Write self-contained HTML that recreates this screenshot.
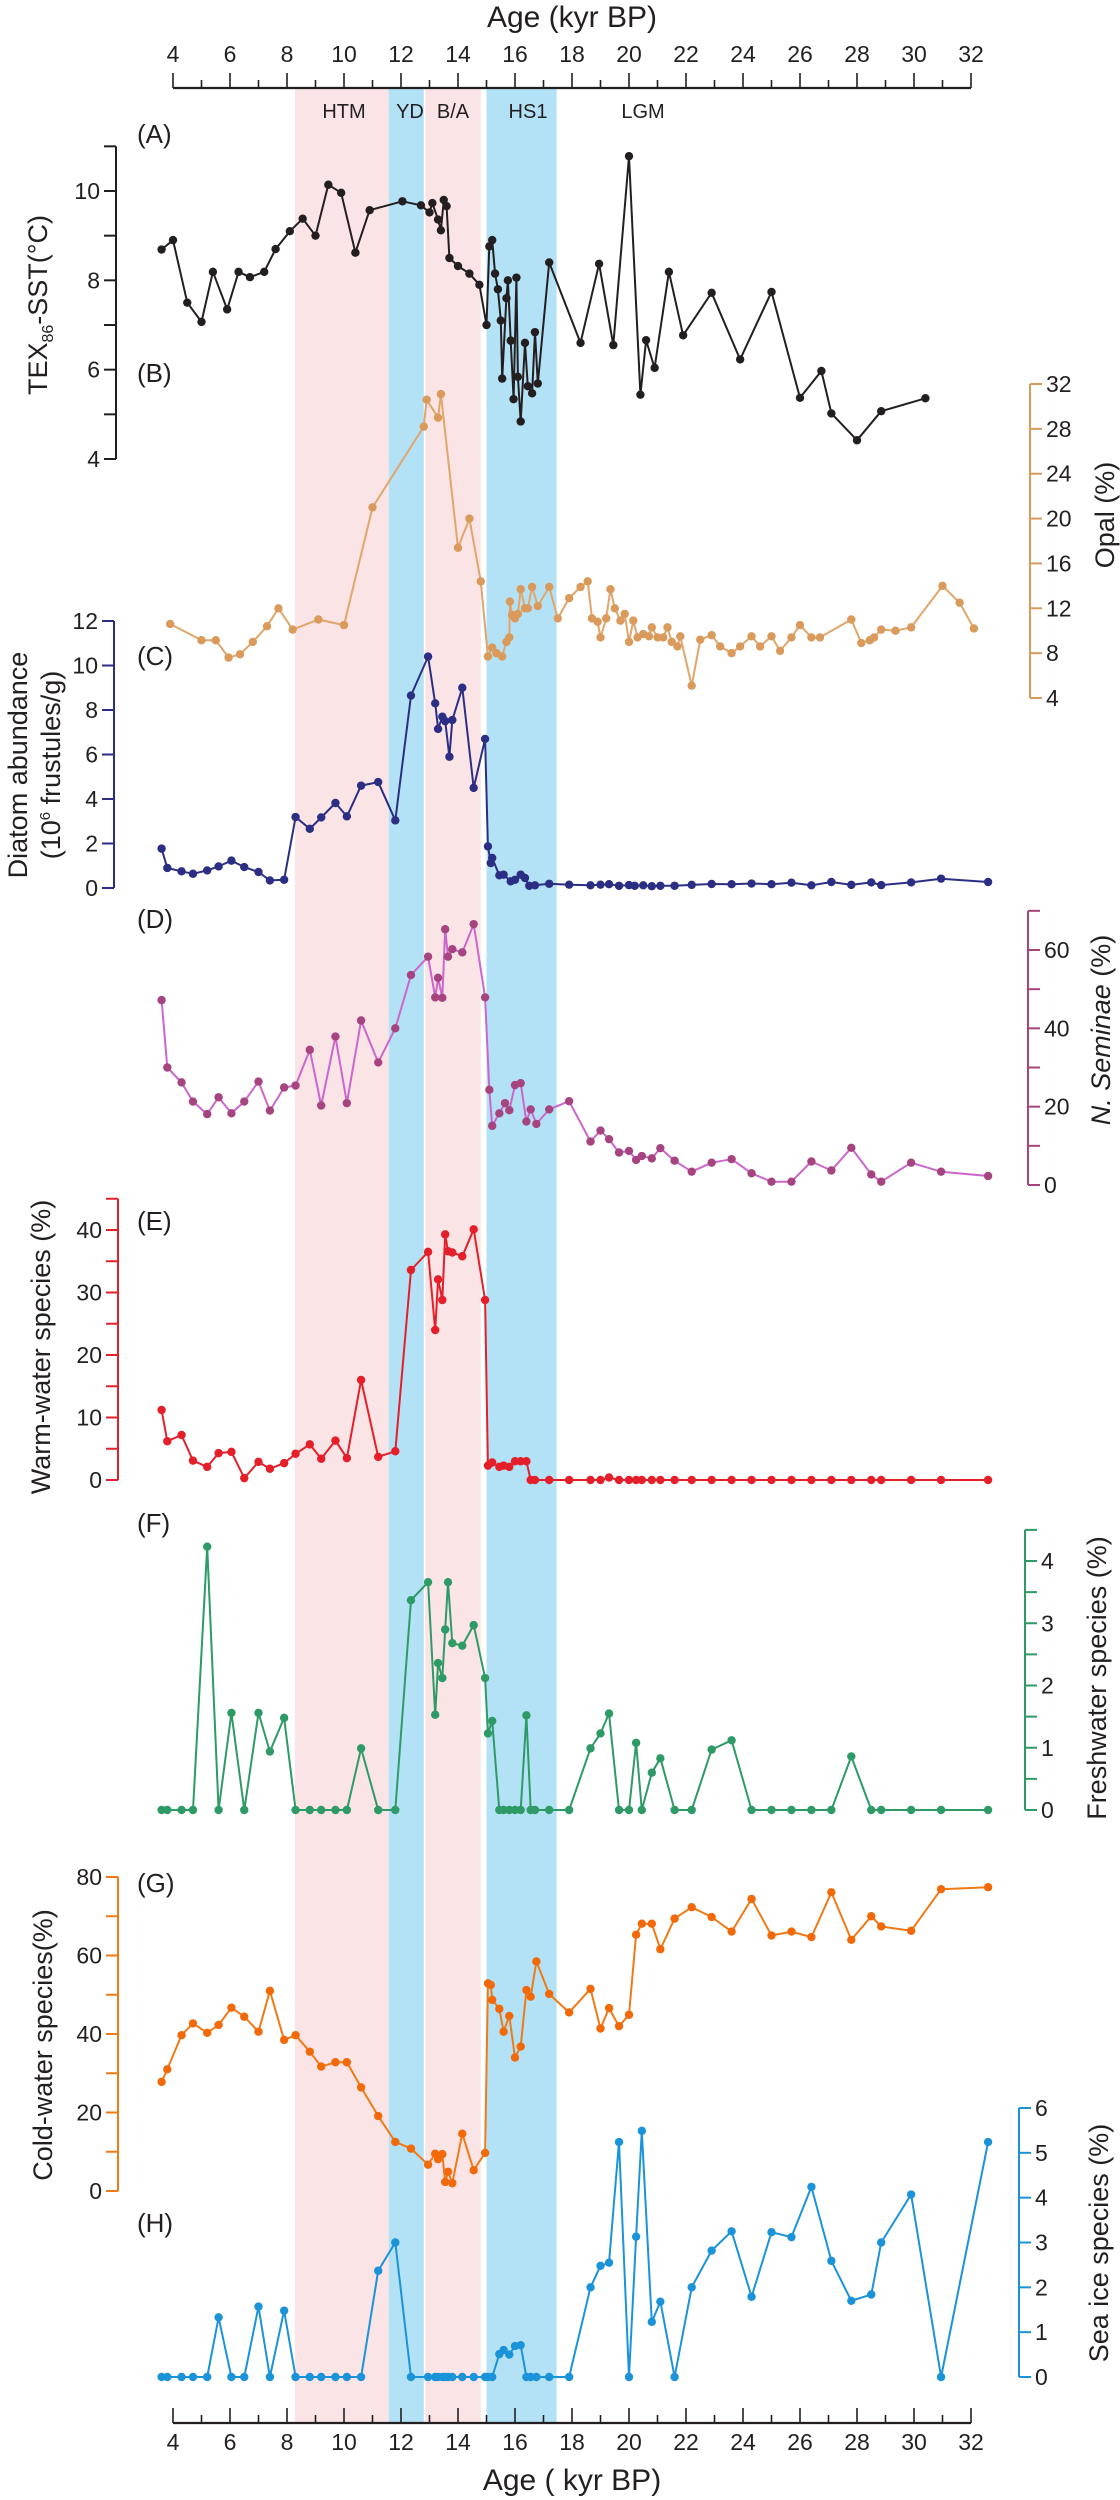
<!DOCTYPE html>
<html><head><meta charset="utf-8"><title>Paleo records</title>
<style>
html,body{margin:0;padding:0;background:#fff;}
svg{display:block;font-family:"Liberation Sans",Arial,sans-serif;}
</style></head>
<body>
<svg id="chart" width="1120" height="2500" viewBox="0 0 1120 2500" xmlns="http://www.w3.org/2000/svg"></svg>
<script>
// ---- Data ----
const ageTicks = [4,6,8,10,12,14,16,18,20,22,24,26,28,30,32];
const bandStarts = [8.28, 11.57, 12.85, 15.0];
const bandEnds = [11.57, 12.8, 14.8, 17.46];
const bandLabels = ["HTM","YD","B/A","HS1"];

const ageA = [3.6,4.0,4.5,5.0,5.4,5.9,6.3,6.7,7.2,7.6,8.1,8.55,9.0,9.45,9.9,10.4,10.9,12.05,12.7,13.0,13.1,13.3,13.4,13.5,13.6,13.7,14.0,14.4,14.75,15.0,15.1,15.2,15.3,15.4,15.5,15.55,15.7,15.75,15.85,15.95,16.05,16.1,16.2,16.35,16.45,16.6,16.7,16.8,17.2,18.3,18.95,19.45,20.0,20.4,20.6,20.9,21.4,21.9,22.9,23.9,25.0,26.0,26.75,27.1,28.0,28.85,30.4];
const sstA = [8.69,8.9,7.5,7.07,8.19,7.35,8.19,8.07,8.19,8.7,9.1,9.38,9.0,10.14,9.96,8.62,9.57,9.77,9.68,9.52,9.73,9.36,9.12,9.8,9.66,8.5,8.32,8.15,7.9,7.0,8.76,8.9,8.15,7.8,7.1,5.8,7.6,8.0,6.65,5.34,8.06,5.84,4.84,6.6,5.63,5.47,6.84,5.69,8.4,6.6,8.37,6.55,10.78,5.44,6.66,6.04,8.19,6.77,7.72,6.23,7.74,5.37,5.97,5.02,4.42,5.07,5.36];

const ageB = [3.9,5.0,5.5,5.95,6.35,6.8,7.3,7.7,8.2,9.1,10.0,11.0,12.8,12.9,13.3,13.4,14.0,14.4,14.8,15.05,15.2,15.35,15.55,15.7,15.8,15.82,15.9,16.0,16.1,16.2,16.35,16.45,16.6,16.8,17.2,17.5,17.9,18.3,18.55,18.7,18.9,19.0,19.2,19.35,19.5,19.7,19.85,20.0,20.15,20.3,20.5,20.7,20.8,21.0,21.2,21.35,21.5,21.7,21.8,22.2,22.5,22.9,23.2,23.6,23.9,24.3,24.6,25.0,25.3,25.7,26.0,26.4,26.7,27.8,28.15,28.45,28.6,28.85,29.35,29.9,31.0,31.6,32.1];
const opalB = [10.6,9.15,9.15,7.6,7.9,9.0,10.4,12.0,10.1,11.0,10.5,21.0,28.2,30.6,29.0,31.1,17.4,20.0,14.4,7.7,8.5,8.0,7.7,9.0,9.4,12.6,11.4,11.1,11.5,13.7,12.0,12.0,13.9,12.2,13.9,11.1,12.9,13.9,14.4,11.1,10.8,9.4,11.1,13.7,12.0,10.9,11.5,9.0,10.9,9.4,9.7,9.5,10.3,9.4,9.4,10.3,9.0,8.6,9.5,5.1,9.2,9.6,8.6,8.0,8.6,9.5,8.6,9.5,8.2,9.4,10.5,9.4,9.4,11.0,8.9,9.15,9.4,10.1,10.0,10.3,14.0,12.5,10.2];

const ageC = [3.6,3.8,4.3,4.7,5.2,5.6,6.05,6.5,7.0,7.4,7.9,8.3,8.8,9.2,9.7,10.1,10.6,11.2,11.8,12.35,12.95,13.2,13.3,13.45,13.55,13.7,13.8,14.15,14.55,14.95,15.05,15.15,15.2,15.45,15.6,15.85,16.0,16.2,16.35,16.5,16.7,17.2,17.9,18.65,19.0,19.3,19.65,20.0,20.2,20.5,20.8,21.1,21.6,22.2,22.9,23.6,24.3,25.0,25.7,26.4,27.1,27.8,28.5,28.85,29.9,30.95,32.6];
const diatomC = [1.77,0.9,0.75,0.64,0.79,0.97,1.23,0.94,0.72,0.34,0.37,3.19,2.66,3.17,3.82,3.22,4.6,4.76,3.04,8.65,10.4,8.3,7.15,7.7,7.5,5.9,7.55,9.0,4.5,6.7,1.87,1.12,1.35,0.57,0.6,0.3,0.37,0.6,0.45,0.1,0.12,0.19,0.15,0.12,0.15,0.17,0.1,0.13,0.1,0.12,0.08,0.1,0.1,0.14,0.18,0.17,0.2,0.17,0.24,0.12,0.27,0.14,0.25,0.13,0.25,0.42,0.27];

const ageD = [3.6,3.8,4.3,4.7,5.2,5.6,6.05,6.5,7.0,7.4,7.9,8.3,8.8,9.2,9.7,10.1,10.6,11.2,11.8,12.35,12.95,13.2,13.3,13.45,13.55,13.65,13.8,14.15,14.55,14.95,15.1,15.2,15.45,15.65,15.8,16.0,16.2,16.4,16.55,16.75,17.2,17.9,18.65,19.0,19.3,19.65,20.0,20.25,20.45,20.8,21.1,21.6,22.2,22.9,23.6,24.3,25.0,25.7,26.4,27.1,27.8,28.5,28.85,29.9,30.95,32.6];
const seminaeD = [47.2,30.0,26.2,21.3,18.1,22.4,18.3,21.3,26.4,19.0,24.9,25.4,34.5,20.3,37.9,20.9,42.0,31.3,40.0,53.6,58.3,47.9,52.9,47.8,65.3,58.3,60.2,59.4,66.6,47.9,24.3,15.1,18.3,20.9,19.1,25.5,26.0,16.2,19.3,15.6,19.3,21.4,11.1,13.9,11.7,8.3,8.7,6.4,7.4,6.8,9.4,6.2,3.4,5.7,6.6,3.0,0.85,0.85,6.0,3.7,9.5,2.7,0.85,5.7,3.4,2.3];

const ageE = [3.6,3.8,4.3,4.7,5.2,5.6,6.05,6.5,7.0,7.4,7.9,8.3,8.8,9.2,9.7,10.1,10.6,11.2,11.8,12.35,12.95,13.2,13.3,13.45,13.55,13.65,13.8,14.15,14.55,14.95,15.05,15.2,15.45,15.6,15.8,16.0,16.2,16.4,16.55,16.7,17.2,17.9,18.65,19.0,19.3,19.65,20.0,20.25,20.45,20.8,21.1,21.6,22.2,22.9,23.6,24.3,25.0,25.7,26.4,27.1,27.8,28.5,28.85,29.9,30.95,32.6];
const warmE = [11.2,6.2,7.2,3.1,2.1,4.3,4.5,0.3,2.9,1.8,2.7,4.2,5.7,3.4,6.3,3.5,16.0,3.7,4.6,33.6,36.5,24.0,32.1,28.8,39.3,36.6,36.4,35.8,40.1,28.8,2.3,2.8,2.1,2.3,2.1,3.0,3.0,3.0,0,0,0,0,0,0,0.4,0,0,0,0,0,0,0,0,0,0,0,0,0,0,0,0,0,0,0,0,0];

const ageF = ageE.slice();
const freshF = [0,0,0,0,4.23,0,1.56,0,1.56,0.94,1.48,0,0,0,0,0,0.99,0,0,3.37,3.66,1.53,2.36,2.12,2.9,3.66,2.68,2.64,2.97,2.12,1.23,1.43,0,0,0,0,0,1.52,0,0,0,0,0.99,1.23,1.55,0,0,1.08,0,0.6,0.83,0,0,0.97,1.12,0,0,0,0,0,0.86,0,0,0,0,0];

const ageG = [3.6,3.8,4.3,4.7,5.2,5.6,6.05,6.5,7.0,7.4,7.9,8.3,8.8,9.2,9.7,10.1,10.6,11.2,11.8,12.35,12.95,13.2,13.3,13.45,13.55,13.65,13.8,14.15,14.55,14.95,15.05,15.15,15.2,15.45,15.6,15.8,16.0,16.2,16.4,16.55,16.75,17.2,17.9,18.65,19.0,19.3,19.65,20.0,20.25,20.45,20.8,21.1,21.6,22.2,22.9,23.6,24.3,25.0,25.7,26.4,27.1,27.8,28.5,28.85,29.9,30.95,32.6];
const coldG = [27.8,31.0,39.7,42.7,40.3,42.3,46.7,44.4,40.6,51.0,38.5,39.7,35.5,31.7,32.8,32.8,26.4,19.1,12.5,10.8,6.7,9.5,8.1,9.4,2.3,4.9,2.0,14.6,5.3,9.7,52.9,52.5,48.7,46.4,40.6,44.6,34.0,36.8,51.2,49.5,58.5,50.2,45.5,51.5,41.4,46.6,42.0,44.9,65.3,68.1,68.1,61.6,69.4,72.3,69.8,66.1,74.4,65.1,66.1,64.7,76.1,64.0,70.0,67.4,66.3,76.9,77.4];

const ageH = [3.6,3.8,4.3,4.7,5.2,5.6,6.05,6.5,7.0,7.4,7.9,8.3,8.8,9.2,9.7,10.1,10.6,11.2,11.8,12.35,12.95,13.2,13.3,13.45,13.55,13.65,13.8,14.15,14.55,14.95,15.05,15.2,15.45,15.6,15.8,16.0,16.2,16.4,16.55,16.75,17.2,17.9,18.65,19.0,19.3,19.65,20.0,20.25,20.45,20.8,21.1,21.6,22.2,22.9,23.6,24.3,25.0,25.7,26.4,27.1,27.8,28.5,28.85,29.9,30.95,32.6];
const iceH = [0,0,0,0,0,1.33,0,0,1.57,0,1.48,0,0,0,0,0,0,2.37,3.0,0,0,0,0,0,0,0,0,0,0,0,0,0,0.51,0.6,0.5,0.69,0.71,0,0,0,0,0,2.0,2.48,2.55,5.24,0,3.13,5.49,1.23,1.68,0,2.0,2.82,3.25,1.79,3.23,3.12,4.24,2.59,1.7,1.84,3.0,4.07,0,5.24];

// ---- Drawing ----
const NS = "http://www.w3.org/2000/svg";
const svg = document.getElementById("chart");
function el(tag, attrs, parent) {
  const e = document.createElementNS(NS, tag);
  for (const k in attrs) e.setAttribute(k, attrs[k]);
  (parent || svg).appendChild(e);
  return e;
}
const X = k => 173 + (k - 4) * 28.5;
function lin(v0, p0, v1, p1) { return v => p0 + (v - v0) * (p1 - p0) / (v1 - v0); }

// bands
const bandColors = ["#fbe4e6", "#b3e2f6", "#fbe4e6", "#b3e2f6"];
for (let i = 0; i < bandStarts.length; i++) {
  const r = el("rect", {x: X(bandStarts[i]), y: 88, width: X(bandEnds[i]) - X(bandStarts[i]), height: 2335, fill: bandColors[i]});
  
  
}
const bandTextX = [344, 410, 453, 528, 643];
const bandTexts = ["HTM", "YD", "B/A", "HS1", "LGM"];
for (let i = 0; i < bandTexts.length; i++) {
  const t = el("text", {x: bandTextX[i], y: 118, "font-size": 20, fill: "#231f20", "text-anchor": "middle"});
  t.textContent = bandTexts[i];
  
  
}

// age axes
function ageAxis(y, top) {
  const g = el("g", {});
  
  
  el("line", {x1: X(4), x2: X(32), y1: y, y2: y, stroke: "#231f20", "stroke-width": 2.2}, g);
  for (let k = 4; k <= 32; k++) {
    const major = k % 2 === 0;
    el("line", {x1: X(k), x2: X(k), y1: y, y2: y - (major ? 15 : 8), stroke: "#231f20", "stroke-width": 1.6}, g);
  }
  ageTicks.forEach(k => {
    const t = el("text", {x: X(k), y: top ? 62 : 2450, "font-size": 23, "text-anchor": "middle", fill: "#231f20"}, g);
    t.textContent = k;
  });
  const tt = el("text", {x: X(18), y: top ? 27 : 2490, "font-size": 30, "text-anchor": "middle", fill: "#231f20"}, g);
  tt.textContent = top ? "Age (kyr BP)" : "Age ( kyr BP)";
  
  
}
ageAxis(88, true);
ageAxis(2423, false);

// y axis
function yAxis(name, side, x, sc, vmin, vmax, step, labelStep, color) {
  const g = el("g", {});
  
  
  el("line", {x1: x, x2: x, y1: sc(vmin), y2: sc(vmax), stroke: color, "stroke-width": 2}, g);
  const dir = side === "left" ? -1 : 1;
  for (let v = vmin; v <= vmax + 1e-9; v += step) {
    const vv = Math.round(v * 100) / 100;
    el("line", {x1: x, x2: x + dir * 12, y1: sc(vv), y2: sc(vv), stroke: color, "stroke-width": 2}, g);
    if (Math.abs(vv / labelStep - Math.round(vv / labelStep)) < 1e-6) {
      const t = el("text", {x: x + dir * 16, y: sc(vv) + 8, "font-size": 23, fill: "#231f20", "text-anchor": side === "left" ? "end" : "start"}, g);
      t.textContent = vv;
    }
  }
}
function yTitle(name, lines, x, y, sizes) {
  const t = el("text", {transform: `translate(${x},${y}) rotate(-90)`, "text-anchor": "middle", "font-size": 27, fill: "#231f20"});
  
  
  return t;
}
function series(name, ages, vals, sc, lineColor, dotColor) {
  const g = el("g", {});
  
  
  const pts = ages.map((a, i) => X(a).toFixed(1) + "," + sc(vals[i]).toFixed(1)).join(" ");
  el("polyline", {points: pts, fill: "none", stroke: lineColor, "stroke-width": 2, "stroke-linejoin": "round"}, g);
  ages.forEach((a, i) => {
    const c = el("circle", {cx: X(a), cy: sc(vals[i]), r: 4.2, fill: dotColor}, g);
    
    
  });
}
function panelLabel(txt, y) {
  const t = el("text", {x: 137, y: y, "font-size": 26, fill: "#231f20"});
  t.textContent = txt;
  
  
}

// scales
const sA = lin(10, 191, 4, 459);
const sB = lin(4, 698, 32, 384);
const sC = lin(0, 888, 12, 621);
const sD = lin(0, 1185, 60, 950);
const sE = lin(0, 1480, 40, 1230);
const sF = lin(0, 1810, 4, 1561);
const sG = lin(0, 2191, 80, 1877);
const sH = lin(0, 2377, 6, 2108);

// A
yAxis("sst-y-axis", "left", 116, sA, 4, 11, 1, 2, "#231f20");
series("sst-series", ageA, sstA, sA, "#231f20", "#231f20");
let t = yTitle("sst-y-axis-title", null, 47, 305);
t.innerHTML = 'TEX<tspan font-size="16" dy="6">86</tspan><tspan dy="-6">-SST(°C)</tspan>';
panelLabel("(A)", 143);
// B
yAxis("opal-y-axis", "right", 1030, sB, 4, 32, 4, 4, "#d99a5b");
series("opal-series", ageB, opalB, sB, "#e2a56b", "#d99a5b");
t = yTitle("opal-y-axis-title", null, 1114, 515);
t.textContent = "Opal (%)";
panelLabel("(B)", 382);
// C
yAxis("diatom-y-axis", "left", 114, sC, 0, 12, 2, 2, "#2b2e83");
series("diatom-series", ageC, diatomC, sC, "#2b2e83", "#2b2e83");
t = yTitle("diatom-y-axis-title", null, 27, 765);
t.textContent = "Diatom abundance";
t = yTitle("diatom-y-axis-title-units", null, 60, 765);
t.innerHTML = '(10<tspan font-size="15" dy="-10">6</tspan><tspan dy="10"> frustules/g)</tspan>';
panelLabel("(C)", 665);
// D
yAxis("seminae-y-axis", "right", 1028, sD, 0, 70, 10, 20, "#a6447f");
series("seminae-series", ageD, seminaeD, sD, "#cc66cc", "#a6447f");
t = yTitle("seminae-y-axis-title", null, 1110, 1030);
t.innerHTML = '<tspan font-style="italic">N. Seminae</tspan> (%)';
panelLabel("(D)", 928);
// E
yAxis("warm-y-axis", "left", 118, sE, 0, 45, 5, 10, "#e51f2a");
series("warm-series", ageE, warmE, sE, "#e51f2a", "#e51f2a");
t = yTitle("warm-y-axis-title", null, 50, 1347);
t.textContent = "Warm-water species (%)";
panelLabel("(E)", 1230);
// F
yAxis("freshwater-y-axis", "right", 1025, sF, 0, 4.5, 0.5, 1, "#2e9a66");
series("freshwater-series", ageF, freshF, sF, "#2e9a66", "#2e9a66");
t = yTitle("freshwater-y-axis-title", null, 1106, 1678);
t.textContent = "Freshwater species (%)";
panelLabel("(F)", 1532);
// G
yAxis("cold-y-axis", "left", 118, sG, 0, 80, 10, 20, "#f07a16");
series("cold-series", ageG, coldG, sG, "#f07a16", "#f2690a");
t = yTitle("cold-y-axis-title", null, 52, 2045);
t.textContent = "Cold-water species(%)";
panelLabel("(G)", 1892);
// H
yAxis("seaice-y-axis", "right", 1019, sH, 0, 6, 1, 1, "#1b93d9");
series("seaice-series", ageH, iceH, sH, "#1b93d9", "#1b93d9");
t = yTitle("seaice-y-axis-title", null, 1108, 2243);
t.textContent = "Sea ice species (%)";
panelLabel("(H)", 2232);
</script>
</body></html>
